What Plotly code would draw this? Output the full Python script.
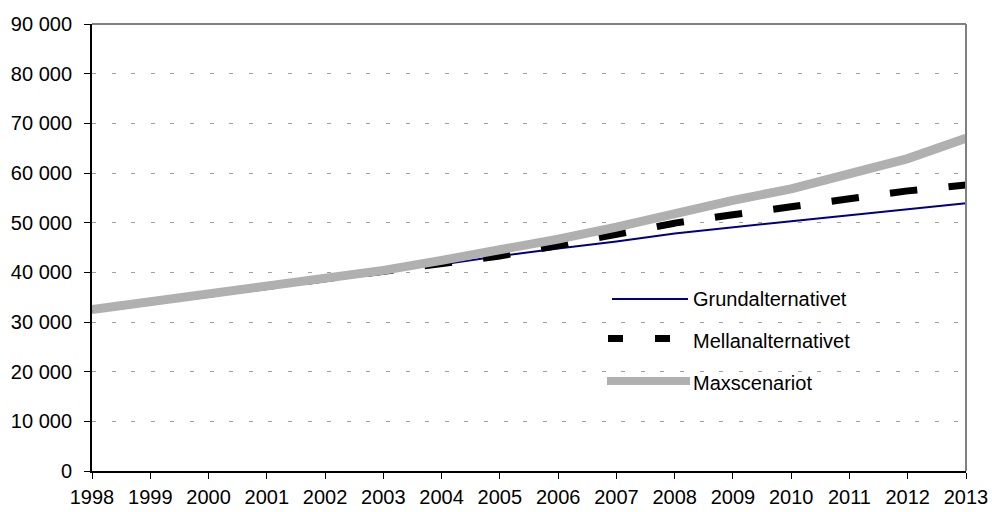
import plotly.graph_objects as go

# Years on the horizontal axis
years = list(range(1998, 2014))

# Series values (number of persons)
grund = [32500, 34000, 35500, 37100, 38700, 40300, 41600, 43300,
         44800, 46200, 47800, 49100, 50300, 51500, 52700, 53900]
mellan = [32500, 34000, 35500, 37100, 38700, 40300, 41600, 43300,
          45400, 47500, 49900, 51600, 53300, 54900, 56400, 57600]
maxscen = [32500, 34000, 35500, 37100, 38700, 40400, 42400, 44400,
           46700, 49100, 51900, 54500, 56800, 59800, 62900, 67000]

series_names = ["Grundalternativet", "Mellanalternativet", "Maxscenariot"]
y_ticks = list(range(0, 90001, 10000))

FONT = "Arial, Liberation Sans, sans-serif"
W, H = 992, 512
ML, MR, MT, MB = 92, 26, 24, 41
PW, PH = W - ML - MR, H - MT - MB


def px_x(px):
    return (px - ML) / PW


def px_y(py):
    return (H - MB - py) / PH


NAVY = "#000080"
BAND = "#b0b0b0"

fig = go.Figure()
fig.add_trace(go.Scatter(x=years, y=grund, mode="lines", name=series_names[0],
                         line=dict(color=NAVY, width=2)))
fig.add_trace(go.Scatter(x=years, y=mellan, mode="lines", name=series_names[1],
                         line=dict(color="black", width=7,
                                   dash="9.5px,31.4px,18px,0px")))
fig.add_trace(go.Scatter(x=years, y=maxscen, mode="lines", name=series_names[2],
                         line=dict(color=BAND, width=9)))

shapes = [
    # grey frame on top and right of the plot area
    dict(type="line", xref="paper", yref="paper", x0=0, x1=1, y0=1, y1=1,
         line=dict(color="#808080", width=2)),
    dict(type="line", xref="paper", yref="paper", x0=1, x1=1, y0=0, y1=1,
         line=dict(color="#808080", width=2)),
    # legend samples
    dict(type="line", xref="paper", yref="paper",
         x0=px_x(612), x1=px_x(688), y0=px_y(299), y1=px_y(299),
         line=dict(color=NAVY, width=2)),
    dict(type="line", xref="paper", yref="paper",
         x0=px_x(608), x1=px_x(623), y0=px_y(338.5), y1=px_y(338.5),
         line=dict(color="black", width=7)),
    dict(type="line", xref="paper", yref="paper",
         x0=px_x(655), x1=px_x(670), y0=px_y(338.5), y1=px_y(338.5),
         line=dict(color="black", width=7)),
    dict(type="line", xref="paper", yref="paper",
         x0=px_x(607), x1=px_x(690), y0=px_y(381), y1=px_y(381),
         line=dict(color=BAND, width=8)),
]

annotations = []
for name, py in zip(series_names, [299, 341, 383]):
    annotations.append(dict(text=name, xref="paper", yref="paper",
                            x=px_x(691), y=px_y(py), xanchor="left",
                            yanchor="middle", showarrow=False,
                            font=dict(family=FONT, size=20, color="black")))

fig.update_layout(
    width=W, height=H,
    margin=dict(l=ML, r=MR, t=MT, b=MB, pad=0, autoexpand=False),
    paper_bgcolor="white", plot_bgcolor="white",
    showlegend=False,
    separators=", ",
    font=dict(family=FONT, size=20, color="black"),
    shapes=shapes,
    annotations=annotations,
)

fig.update_xaxes(
    range=[1998, 2013], tickmode="array", tickvals=years,
    ticktext=[str(y) for y in years],
    showgrid=False, zeroline=False, automargin=False,
    showline=True, linecolor="black", linewidth=2,
    ticks="outside", ticklen=6, tickcolor="black", tickwidth=1,
    ticklabelstandoff=1,
)
fig.update_yaxes(
    range=[0, 90000], tickmode="array", tickvals=y_ticks,
    tickformat=",d", automargin=False,
    showgrid=True, gridcolor="#a0a0a0", gridwidth=1, griddash="4px,15.6px",
    zeroline=False,
    showline=True, linecolor="black", linewidth=2,
    ticks="outside", ticklen=6, tickcolor="black", tickwidth=1,
    ticklabelstandoff=8,
)

fig.write_html("out.html")
